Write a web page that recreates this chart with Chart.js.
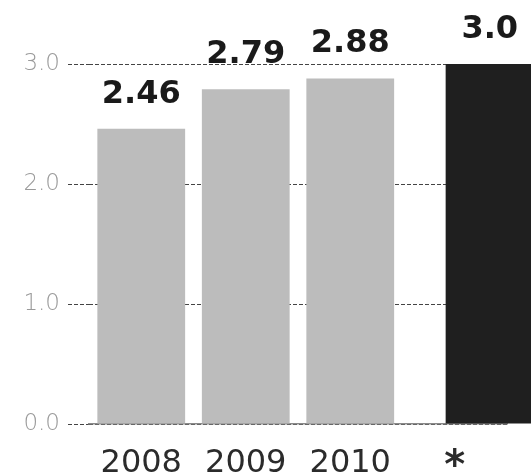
<!DOCTYPE html>
<html>
<head>
<meta charset="utf-8">
<script src="https://cdn.jsdelivr.net/npm/chart.js@4"></script>
<style>
html, body { margin: 0; padding: 0; background: #fff; overflow: hidden; }
#wrap { position: relative; width: 531px; height: 475px; }
</style>
</head>
<body>
<div id="wrap"><canvas id="grafica"></canvas></div>
<script>
// datos
const years = ['2008', '2009', '2010', '*'];
const actual = [2.46, 2.79, 2.88, null];
const forecast = [null, null, null, 3.0];
const valueText = ['2.46', '2.79', '2.88', '3.0'];

// etiquetas de valor sobre las barras
const valueLabels = {
  id: 'valueLabels',
  afterDatasetsDraw(chart) {
    const ctx = chart.ctx;
    ctx.save();
    ctx.font = 'bold 32px "DejaVu Sans"';
    ctx.fillStyle = '#1a1a1a';
    ctx.textAlign = 'center';
    ctx.textBaseline = 'alphabetic';
    chart.data.datasets.forEach((ds, i) => {
      chart.getDatasetMeta(i).data.forEach((bar, j) => {
        if (ds.data[j] == null) return;
        ctx.fillText(valueText[j], bar.x, bar.y - 26);
      });
    });
    ctx.restore();
  }
};

new Chart(document.getElementById('grafica'), {
  type: 'bar',
  data: {
    labels: years,
    datasets: [{
      data: actual,
      backgroundColor: '#bcbcbc',
      skipNull: true,
      categoryPercentage: 1,
      barPercentage: 0.84
    }, {
      // barra del pronóstico, desplazada a la derecha
      data: forecast,
      backgroundColor: '#1f1f1f',
      categoryPercentage: 1.34,
      barPercentage: 1.26,
      clip: false
    }]
  },
  options: {
    responsive: true,
    maintainAspectRatio: false,
    animation: false,
    layout: { padding: { top: 64, right: 24, left: 0, bottom: 0 } },
    plugins: { legend: { display: false }, tooltip: { enabled: false } },
    scales: {
      x: {
        grid: { display: false, drawTicks: false },
        border: { display: true, color: '#8a8a8a', width: 1.5 },
        ticks: {
          padding: 20,
          color: '#2b2b2b',
          // el asterisco va más grande y grueso
          font: c => c.index === 3
            ? { family: 'DejaVu Sans', size: 40, weight: 'bold' }
            : { family: 'DejaVu Sans', size: 32 }
        },
        afterFit: s => { s.height = 51; }
      },
      y: {
        min: 0,
        max: 3,
        ticks: {
          stepSize: 1,
          padding: 8,
          color: '#9a9a9a',
          font: { family: 'DejaVu Sans', size: 23, weight: 200 },
          callback: v => v.toFixed(1)
        },
        grid: { color: '#444', lineWidth: 1, tickLength: 21, tickBorderDash: [4, 2] },
        border: { display: false, dash: [4, 2] },
        afterFit: s => { s.width = 89; }
      }
    }
  },
  plugins: [valueLabels]
});
</script>
</body>
</html>
